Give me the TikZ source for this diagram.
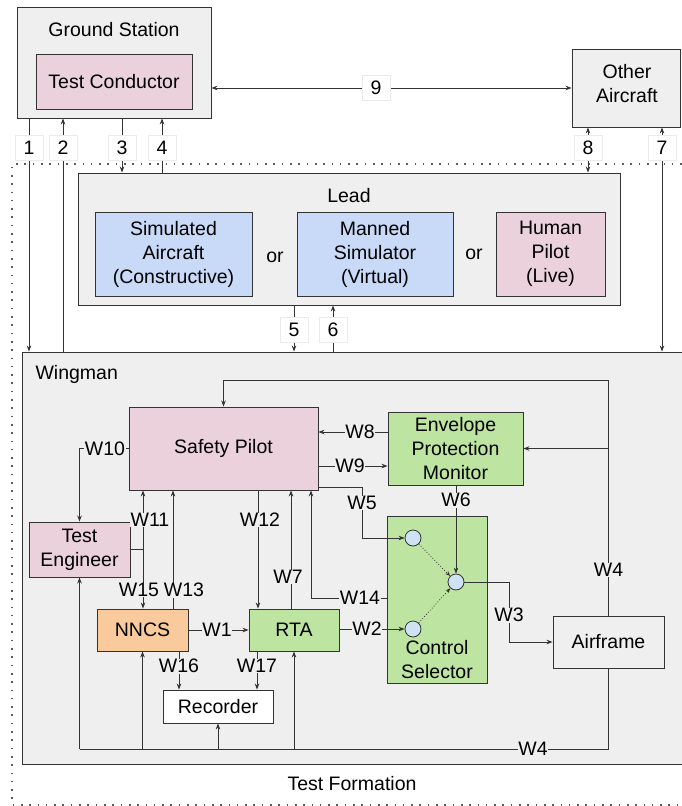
\documentclass[tikz,border=0pt]{standalone}
\usepackage{fontspec}
\setmainfont{Liberation Sans}
\usetikzlibrary{arrows.meta}
\definecolor{bggray}{HTML}{EFEFEF}
\definecolor{pinkfill}{HTML}{EAD1DC}
\definecolor{bluefill}{HTML}{C9DAF8}
\definecolor{greenfill}{HTML}{BDE5A1}
\definecolor{orangefill}{HTML}{F9CB9C}
\definecolor{dotfill}{HTML}{CFE2F3}
\definecolor{edge}{HTML}{333333}
\tikzset{
  blk/.style={draw=edge, line width=0.9pt, inner sep=0pt, align=center},
  numlbl/.style={fill=white, draw=black!8, minimum width=28pt, minimum height=25pt, inner sep=0pt},
  wlbl/.style={fill=bggray, inner sep=0.6pt},
  conn/.style={draw=edge, line width=0.8pt},
  arr/.style={conn, -{Stealth[length=6pt,width=4.5pt]}},
  darr/.style={conn, {Stealth[length=6pt,width=4.5pt]}-{Stealth[length=6pt,width=4.5pt]}},
  dotarr/.style={draw=edge, line width=0.8pt, dotted, -{Stealth[length=5pt,width=4pt]}},
  sel/.style={circle, draw=edge, fill=dotfill, line width=0.8pt, minimum size=16pt, inner sep=0pt},
}
\begin{document}
\begin{tikzpicture}[x=1pt,y=-1pt,font=\fontsize{19.5}{24}\selectfont]
    \useasboundingbox (0,0) rectangle (681,806);
    % Test formation frame
    \draw[edge!80, line width=1.6pt, dash pattern=on 1.6pt off 6.7pt] (690,164) -- (12,164) -- (12,805) -- (690,805);
    \node (tftitle) at (352,784) {Test Formation};
    % Ground station and other aircraft
    \node[blk, fill=bggray, minimum width=194pt, minimum height=111pt] (gs) at (114,62.5) {};
    \node (gstitle) at (114,30) {Ground Station};
    \node[blk, fill=pinkfill, minimum width=156pt, minimum height=55pt] (tc) at (114,81.5) {Test Conductor};
    \node[blk, fill=bggray, minimum width=108pt, minimum height=78pt] (oa) at (626,88) {};
    \node[align=center] (oatext) at (627,83.5) {Other\\Aircraft};
    % Lead
    \node[blk, fill=bggray, minimum width=542pt, minimum height=132pt] (lead) at (349,239) {};
    \node (leadtitle) at (349,196) {Lead};
    \node[blk, fill=bluefill, minimum width=157pt, minimum height=84pt] (simac) at (173.5,254) {Simulated\\Aircraft\\(Constructive)};
    \node (or1) at (275,257) {or};
    \node[blk, fill=bluefill, minimum width=156pt, minimum height=84pt] (mansim) at (375,254) {Manned\\Simulator\\(Virtual)};
    \node (or2) at (474,254) {or};
    \node[blk, fill=pinkfill, minimum width=109pt, minimum height=84pt] (human) at (550.5,254) {Human\\Pilot\\(Live)};
    % Wingman
    \node[blk, fill=bggray, minimum width=670pt, minimum height=412pt] (wm) at (357,558) {};
    \node[anchor=west] (wmtitle) at (32,374) {Wingman};
    \node[blk, fill=pinkfill, minimum width=189pt, minimum height=83pt] (sp) at (223.5,448.5) {Safety Pilot};
    \node[blk, fill=greenfill, minimum width=135pt, minimum height=73pt] (epm) at (455.5,448.5) {Envelope\\Protection\\Monitor};
    \node[blk, fill=pinkfill, minimum width=101pt, minimum height=55pt] (te) at (79.5,549.5) {Test\\Engineer};
    \node[blk, fill=greenfill, minimum width=100pt, minimum height=167pt] (cs) at (437,599.5) {};
    \node[align=center] (cstext) at (437,660) {Control\\Selector};
    \node[sel] (c1) at (413,538) {};
    \node[sel] (c2) at (456,582) {};
    \node[sel] (c3) at (413,629) {};
    \node[blk, fill=bggray, minimum width=111pt, minimum height=52pt] (af) at (608.5,642) {Airframe};
    \node[blk, fill=orangefill, minimum width=91pt, minimum height=42pt] (nncs) at (142.5,630) {NNCS};
    \node[blk, fill=greenfill, minimum width=90pt, minimum height=42pt] (rta) at (294,630) {RTA};
    \node[blk, fill=white, minimum width=110pt, minimum height=33pt] (rec) at (218,706.5) {Recorder};
    % Links between the elements of the formation
    \foreach \n/\xx/\yy in {1/29/148, 2/63/148, 3/122/148, 4/162/148, 5/294/330, 6/333/330, 7/662/148, 8/588/148, 9/376/88}
      \coordinate (p\n) at (\xx,\yy);
    \draw[darr] (gs.east |- oa.west) -- (oa.west);
    \draw[arr] (gs.south -| p1) -- (wm.north -| p1);
    \draw[arr] (wm.north -| p2) -- (gs.south -| p2);
    \draw[arr] (gs.south -| p3) -- (lead.north -| p3);
    \draw[arr] (lead.north -| p4) -- (gs.south -| p4);
    \draw[arr] (lead.south -| p5) -- (wm.north -| p5);
    \draw[arr] (wm.north -| p6) -- (lead.south -| p6);
    \draw[darr] (oa.south -| p7) -- (wm.north -| p7);
    \draw[darr] (oa.south -| p8) -- (lead.north -| p8);
    \foreach \n in {1,...,9}
      \node[numlbl] (l\n) at (p\n) {\n};
    % Links inside the wingman
    \coordinate (w4t) at (608.5,380);
    \draw[arr] (af.north) -- (w4t) -| (sp.north);
    \draw[arr] (af.north |- epm.east) -- (epm.east);
    \coordinate (w8y) at (0,432);
    \coordinate (w9y) at (0,466);
    \draw[arr] (epm.west |- w8y) -- (sp.east |- w8y);
    \draw[arr] (sp.east |- w9y) -- (epm.west |- w9y);
    \coordinate (w5a) at (362,487);
    \draw[arr] (sp.east |- w5a) -- (w5a) |- (c1.west);
    \draw[arr] (epm.south -| c2) -- (c2.north);
    \draw[dotarr] (c1) -- (c2);
    \draw[dotarr] (c3) -- (c2);
    \coordinate (w3a) at (509,582);
    \draw[arr] (c2.east) -- (w3a) |- (af.west);
    \draw[arr] (rta.east |- c3) -- (c3.west);
    \draw[arr] (nncs.east) -- (rta.west);
    \coordinate (w14c) at (311,598);
    \draw[arr] (cs.west |- w14c) -- (w14c) -- (sp.south -| w14c);
    \coordinate (w7x) at (291,0);
    \coordinate (w12x) at (258,0);
    \coordinate (w13x) at (173,0);
    \coordinate (w16x) at (179,0);
    \coordinate (w17x) at (257,0);
    \draw[arr] (rta.north -| w7x) -- (sp.south -| w7x);
    \draw[arr] (sp.south -| w12x) -- (rta.north -| w12x);
    \draw[arr] (nncs.north -| w13x) -- (sp.south -| w13x);
    \draw[arr] (nncs.south -| w16x) -- (rec.north -| w16x);
    \draw[arr] (rta.south -| w17x) -- (rec.north -| w17x);
    \coordinate (w11j) at (143,549.5);
    \draw[arr] (te.east) -- (w11j) -- (sp.south -| w11j);
    \draw[arr] (w11j) -- (nncs.north -| w11j);
    \draw[arr] (sp.west) -| (te.north);
    \coordinate (w4b) at (608.5,749);
    \draw[conn] (af.south) -- (w4b) -- (te.south |- w4b);
    \foreach \t in {te,nncs,rec,rta}
      \draw[arr] (\t.south |- w4b) -- (\t.south);
    % Wire labels
    \foreach \w/\xx/\yy in {W1/217/630, W2/367/629, W3/509/615, W5/362/503, W6/456/500, W7/288/577,
        W8/360/432, W9/350/466, W10/105/448.5, W11/150/520, W12/260/520, W13/184/590,
        W14/360/598, W15/139/590, W16/179/666, W17/257/666}
      \node[wlbl] (\w) at (\xx,\yy) {\w};
    \node[wlbl] (W4a) at (608.5,570) {W4};
    \node[wlbl] (W4b) at (533,749) {W4};
\end{tikzpicture}
\end{document}
